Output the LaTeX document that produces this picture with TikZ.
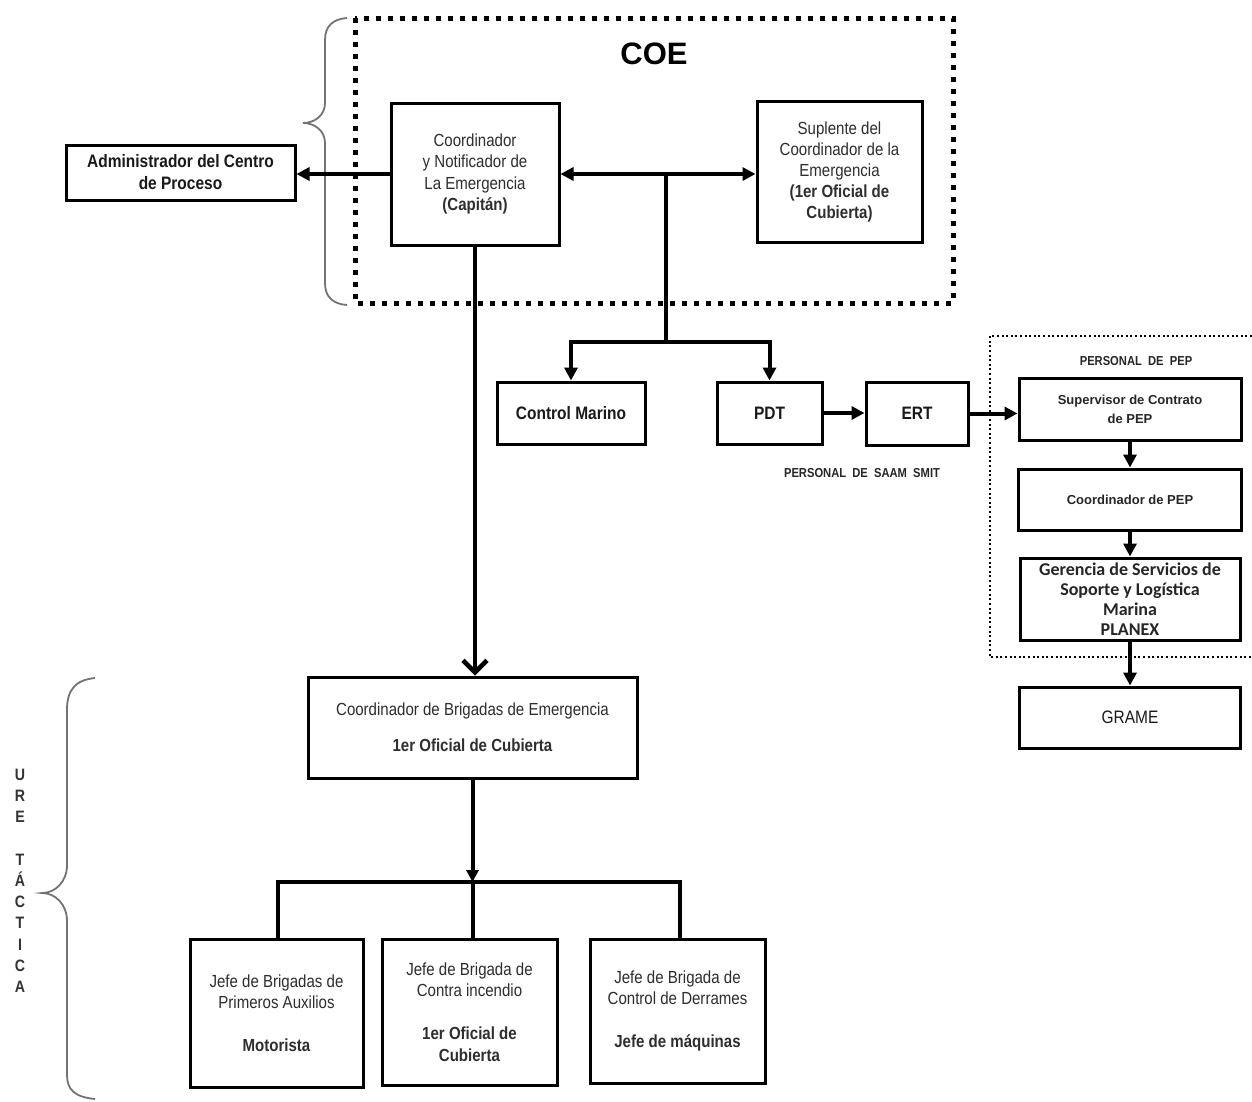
\documentclass[tikz,border=0pt]{standalone}
\usepackage{fontspec}
\setmainfont{Liberation Sans}
\newfontfamily\narrowsans[FakeStretch=0.86]{Liberation Sans}
\newfontfamily\carlitofont{Carlito}
\usetikzlibrary{arrows.meta}

\tikzset{
  box/.style={draw, line width=3pt, inner sep=0pt, align=center, text=black!82},
  regtext/.style={font=\narrowsans\fontsize{17.5}{21.5}\selectfont},
  boldtext/.style={font=\narrowsans\bfseries\fontsize{18}{22}\selectfont, text=black!90},
  smalltext/.style={font=\bfseries\fontsize{13}{19}\selectfont, text=black!85},
  conn/.style={line width=4pt},
  arr/.style={conn, -{Triangle[length=13pt,width=13pt]}},
  darr/.style={conn, {Triangle[length=13pt,width=13pt]}-{Triangle[length=13pt,width=13pt]}},
  barb/.style={line width=4.5pt, -{Straight Barb[length=12pt,width=24pt,line width=4.5pt]}},
  coedots/.style={line width=5pt, dash pattern=on 5pt off 7pt},
  pepdots/.style={line width=2.2pt, dash pattern=on 2pt off 2.6pt},
  bracket/.style={line width=1.8pt, draw=black!55},
}

\begin{document}
\begin{tikzpicture}[x=1pt,y=-1pt]
\fill[white] (0,0) rectangle (1252,1101);
\useasboundingbox (0,0) rectangle (1252,1101);

% COE group frame, brace and title
\draw[coedots] (355,18) rectangle (953,303);
\draw[bracket] (347,18) .. controls (333,19) and (325,26) .. (325,40) -- (325,103)
  .. controls (325,115) and (315,123) .. (303,123)
  .. controls (315,123) and (325,131) .. (325,143) -- (325,283)
  .. controls (325,297) and (333,304) .. (347,305);
\node[font=\bfseries\fontsize{31}{36}\selectfont] (coe) at (654,54) {COE};

% PEP group frame (open to the right)
\draw[pepdots] (1252,336) -- (990,336) -- (990,657) -- (1252,657);
\node[font=\narrowsans\bfseries\fontsize{13}{16}\selectfont, text=black!85] (peplbl) at (1136,361) {PERSONAL\ \ DE\ \ PEP};
\node[font=\narrowsans\bfseries\fontsize{13}{16}\selectfont, text=black!85] (saamlbl) at (862,473) {PERSONAL\ \ DE\ \ SAAM\ \ SMIT};

% Tactical brace and vertical label
\draw[bracket] (95,678) .. controls (75,680) and (67,690) .. (67,710) -- (67,865)
  .. controls (67,882) and (55,893) .. (42,893)
  .. controls (55,893) and (67,904) .. (67,921) -- (67,1075)
  .. controls (67,1090) and (75,1097) .. (95,1099);
\node[anchor=north, align=center, inner sep=0pt, text=black!80,
      font=\narrowsans\bfseries\fontsize{16.5}{21.2}\selectfont] (ure) at (20,769)
  {U\\R\\E\\\mbox{}\\T\\Á\\C\\T\\I\\C\\A};

% Boxes
\node[box, boldtext, minimum width=229pt, minimum height=55pt] (admin) at (180.5,172.5)
  {Administrador del Centro\\de Proceso};
\node[box, regtext, minimum width=168pt, minimum height=142pt] (coord) at (475,174)
  {Coordinador\\y Notificador de\\La Emergencia\\\textbf{(Capitán)}};
\node[box, font=\narrowsans\fontsize{17.5}{21}\selectfont, minimum width=165pt, minimum height=141pt] (supl) at (839.5,171.5)
  {Suplente del\\Coordinador de la\\Emergencia\\\textbf{(1er Oficial de}\\\textbf{Cubierta)}};
\node[box, boldtext, minimum width=148pt, minimum height=62pt] (cmar) at (571,413) {Control Marino};
\node[box, boldtext, minimum width=105pt, minimum height=62pt] (pdt) at (769.5,413) {PDT};
\node[box, boldtext, minimum width=102pt, minimum height=63pt] (ert) at (917,413.5) {ERT};
\node[box, smalltext, minimum width=222pt, minimum height=62pt] (sup) at (1130,409)
  {Supervisor de Contrato\\de PEP};
\node[box, smalltext, minimum width=223pt, minimum height=61pt] (cpep) at (1130,499.5)
  {Coordinador de PEP};
\node[box, font=\carlitofont\bfseries\fontsize{18}{20}\selectfont, text=black!85,
      minimum width=220pt, minimum height=82pt] (ger) at (1130,599)
  {Gerencia de Servicios de\\Soporte y Logística\\Marina\\PLANEX};
\node[box, font=\narrowsans\fontsize{18}{21}\selectfont, text=black!90,
      minimum width=221pt, minimum height=61pt] (grame) at (1130,717.5) {GRAME};
\node[box, regtext, minimum width=329pt, minimum height=101pt] (cbrig) at (472.5,727.5)
  {Coordinador de Brigadas de Emergencia\\[14.5pt]\textbf{1er Oficial de Cubierta}};
\node[box, regtext, minimum width=173pt, minimum height=148pt] (jpa) at (276.5,1013)
  {Jefe de Brigadas de\\Primeros Auxilios\\[21.5pt]\textbf{Motorista}};
\node[box, regtext, minimum width=175pt, minimum height=146pt] (jci) at (469.5,1012)
  {Jefe de Brigada de\\Contra incendio\\[21.5pt]\textbf{1er Oficial de}\\\textbf{Cubierta}};
\node[box, regtext, minimum width=175pt, minimum height=144pt] (jcd) at (677.5,1011)
  {Jefe de Brigada de\\Control de Derrames\\[21.5pt]\textbf{Jefe de máquinas}};

% Junction points
\coordinate (hub) at (666,174);
\coordinate (split) at (666,342);
\coordinate (fork) at (472.5,882);

% Connectors
\draw[arr] (coord.west) -- (coord.west -| admin.east);
\draw[darr] (coord.east) -- (coord.east -| supl.west);
\draw[conn] (hub) -- (split);
\draw[arr] (split) -| (cmar.north);
\draw[arr] (split) -| (pdt.north);
\draw[arr] (pdt.east) -- (pdt.east -| ert.west);
\draw[arr] (ert.east) -- (ert.east -| sup.west);
\draw[arr] (sup.south) -- (cpep.north);
\draw[arr] (cpep.south) -- (ger.north);
\draw[arr] (ger.south) -- (grame.north);
\draw[barb] (coord.south) -- (coord.south |- cbrig.north);
\draw[conn, -{Triangle[length=12pt,width=12pt]}] (cbrig.south) -- (fork);
\draw[conn] (jpa.north -| 278,0) |- (fork) -| (jcd.north -| 680,0);
\draw[conn] (fork) -- (fork |- jci.north);
\end{tikzpicture}
\end{document}
